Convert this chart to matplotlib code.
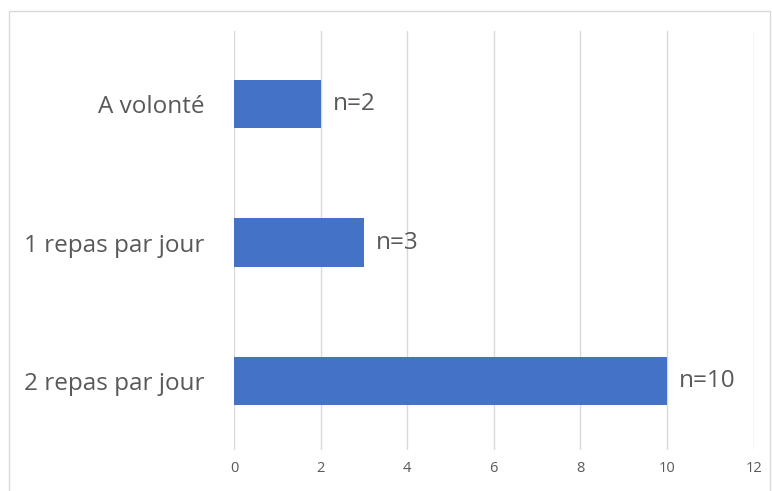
import matplotlib.pyplot as plt
from matplotlib.patches import Rectangle

# donnees
categories = ['2 repas par jour', '1 repas par jour', 'A volonté']
valeurs = [10, 3, 2]
etiquettes = ['n=10', 'n=3', 'n=2']
ticks = [0, 2, 4, 6, 8, 10, 12]

plt.rcParams['font.family'] = ['Open Sans', 'DejaVu Sans']
gris = '#595959'

fig = plt.figure(figsize=(7.72, 4.91), dpi=100)
# cadre du graphique
fig.patches.append(Rectangle((9 / 772, -0.01), (770 - 9) / 772, 1 - 11 / 491 + 0.01,
                             transform=fig.transFigure, fill=False,
                             edgecolor='#D9D9D9', linewidth=1))

ax = fig.add_axes([234 / 772, 1 - 450 / 491, (753.6 - 234) / 772, (450 - 31) / 491])
y = range(len(categories))
ax.barh(y, valeurs, height=0.35, color='#4472C4', zorder=3)
for yi, v, lab in zip(y, valeurs, etiquettes):
    ax.text(v + 0.28, yi, lab, va='center', ha='left', fontsize=17.5, color=gris)

ax.set_xlim(0, 12)
ax.set_ylim(-0.5, 2.53)
ax.set_xticks(ticks)
ax.set_xticklabels([str(t) for t in ticks], fontsize=10.5, color=gris)
ax.set_yticks(list(y))
ax.set_yticklabels(categories, fontsize=17.5, color=gris)
ax.tick_params(axis='both', length=0)
ax.tick_params(axis='x', pad=8)
ax.tick_params(axis='y', pad=21)
ax.grid(axis='x', color='#D9D9D9', linewidth=1, zorder=0)
for s in ax.spines.values():
    s.set_visible(False)

fig.savefig('out.png', dpi=100)
